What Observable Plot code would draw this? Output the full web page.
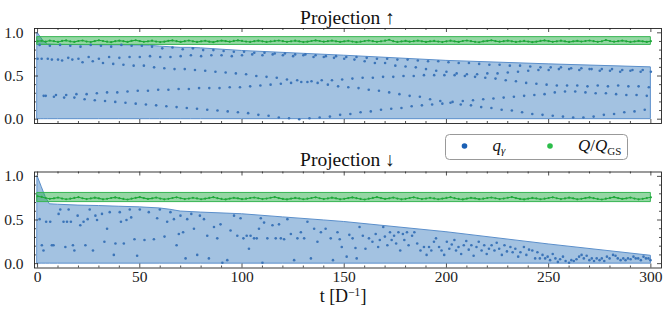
<!DOCTYPE html>
<html><head><meta charset="utf-8">
<script src="https://cdn.jsdelivr.net/npm/d3@7"></script>
<script src="https://cdn.jsdelivr.net/npm/@observablehq/plot@0.6"></script>
<style>
html,body{margin:0;padding:0;background:#fff;}
#wrap{position:relative;width:665px;height:321px;overflow:hidden;font-family:"Liberation Serif","Times New Roman","DejaVu Serif",serif;}
#wrap > svg{position:absolute;left:0;}
#wrap text{font-family:"Liberation Serif","Times New Roman","DejaVu Serif",serif;}
</style></head><body><div id="wrap"></div>
<script>
// ---------- axis ticks ----------
const xTicksMajor = [0, 50, 100, 150, 200, 250, 300];
const xTicksMinor = [10,20,30,40,60,70,80,90,110,120,130,140,160,170,180,190,210,220,230,240,260,270,280,290];
const yTicksMajor = [0, 0.5, 1.0];
const yTicksMinor = [0.1,0.2,0.3,0.4,0.6,0.7,0.8,0.9];
const yTickLabels = ["0.0", "0.5", "1.0"];
const titles = ["Projection \u2191", "Projection \u2193"];

// ---------- Projection ↑ ----------
// q_gamma: five tracks, one point every 5 t, first t of each track:
const upTrackStart = [1, 0, 2, 3, 4];
const upTrack1 = [0.86,0.85,0.86,0.85,0.84,0.86,0.85,0.84,0.86,0.85,
  0.85,0.84,0.82,0.83,0.81,0.82,0.80,0.80,0.79,0.78,
  0.78,0.77,0.77,0.76,0.76,0.75,0.75,0.74,0.73,0.73,
  0.72,0.72,0.71,0.70,0.70,0.69,0.69,0.68,0.67,0.67,
  0.66,0.65,0.65,0.64,0.63,0.63,0.62,0.62,0.61,0.60,
  0.60,0.60,0.59,0.59,0.58,0.58,0.58,0.57,0.57,0.57];
const upTrack2 = [0.70,0.70,0.69,0.71,0.70,0.72,0.70,0.72,0.71,0.72,
  0.72,0.73,0.72,0.72,0.73,0.74,0.73,0.74,0.74,0.73,
  0.74,0.75,0.74,0.75,0.74,0.73,0.74,0.72,0.72,0.71,
  0.70,0.69,0.67,0.65,0.65,0.62,0.61,0.60,0.58,0.56,
  0.55,0.53,0.52,0.52,0.53,0.53,0.54,0.55,0.56,0.57,
  0.57,0.58,0.58,0.57,0.58,0.56,0.56,0.55,0.56,0.55,
  0.55];
const upTrack3 = [0.70,0.69,0.68,0.69,0.66,0.67,0.65,0.64,0.63,0.62,
  0.62,0.60,0.59,0.58,0.58,0.57,0.56,0.55,0.54,0.53,
  0.52,0.50,0.49,0.48,0.46,0.45,0.43,0.42,0.40,0.38,
  0.37,0.36,0.34,0.33,0.31,0.29,0.27,0.26,0.23,0.21,
  0.19,0.17,0.16,0.14,0.13,0.11,0.10,0.08,0.06,0.05,
  0.04,0.03,0.02,0.02,0.03,0.05,0.06,0.08,0.09,0.11];
const upTrack4 = [0.27,0.26,0.25,0.25,0.23,0.22,0.21,0.20,0.19,0.18,
  0.17,0.16,0.15,0.14,0.13,0.12,0.11,0.10,0.09,0.08,
  0.07,0.05,0.04,0.02,0.01,0.00,0.01,0.02,0.03,0.05,
  0.06,0.08,0.09,0.11,0.12,0.13,0.15,0.16,0.17,0.18,
  0.20,0.21,0.22,0.23,0.24,0.25,0.26,0.27,0.28,0.29,
  0.31,0.32,0.32,0.31,0.30,0.30,0.29,0.28,0.28,0.27];
const upTrack5 = [0.27,0.28,0.28,0.29,0.29,0.30,0.31,0.31,0.32,0.33,
  0.33,0.34,0.34,0.35,0.35,0.36,0.36,0.36,0.37,0.37,
  0.38,0.39,0.40,0.41,0.42,0.43,0.44,0.45,0.45,0.46,
  0.47,0.48,0.48,0.49,0.49,0.50,0.50,0.51,0.51,0.51,
  0.51,0.50,0.49,0.48,0.47,0.45,0.44,0.42,0.41,0.40,
  0.39,0.39,0.39,0.38,0.39,0.38,0.39,0.38,0.38,0.37];
const upTrackStep = 5;
// upper edge of the shaded q_gamma region
const upEnvT = [0, 1.5, 3, 5, 10, 20, 30, 40, 50, 55, 60, 65, 70, 75, 80, 100, 150, 200, 250, 300];
const upEnvQ = [1.0, 0.95, 0.90, 0.865, 0.86, 0.858, 0.856, 0.855, 0.853, 0.85, 0.84, 0.833, 0.826, 0.826, 0.82, 0.79, 0.735, 0.675, 0.635, 0.60];
const upBand = [0.86, 0.95];
const bandSpan = [0, 300];
// Q/Q_GS, one value every 2 t
const qgsStep = 2;
const upQgs = [0.902,0.908,0.897,0.910,0.903,0.894,0.906,0.912,0.900,0.895,
  0.905,0.911,0.899,0.893,0.904,0.913,0.905,0.897,0.892,0.903,
  0.910,0.903,0.895,0.907,0.914,0.904,0.896,0.901,0.909,0.899,
  0.893,0.898,0.907,0.912,0.903,0.895,0.903,0.911,0.902,0.894,
  0.901,0.908,0.898,0.892,0.903,0.910,0.904,0.897,0.906,0.913,
  0.906,0.899,0.894,0.903,0.910,0.902,0.894,0.900,0.906,0.911,
  0.903,0.896,0.902,0.909,0.901,0.893,0.898,0.905,0.912,0.905,
  0.897,0.903,0.910,0.902,0.895,0.901,0.908,0.899,0.892,0.897,
  0.905,0.911,0.903,0.896,0.902,0.909,0.920,0.903,0.894,0.900,
  0.907,0.898,0.903,0.910,0.902,0.895,0.901,0.906,0.899,0.893,
  0.902,0.909,0.901,0.895,0.905,0.911,0.903,0.896,0.891,0.901,
  0.907,0.913,0.904,0.897,0.903,0.910,0.902,0.894,0.900,0.906,
  0.899,0.892,0.898,0.906,0.912,0.904,0.896,0.902,0.909,0.901,
  0.894,0.901,0.907,0.899,0.905,0.911,0.903,0.896,0.902,0.916,
  0.905,0.897,0.903,0.910,0.902,0.894,0.900,0.907,0.901,0.895,
  0.903];

// ---------- Projection ↓ ----------
const downT = [1.0,2.1,2.9,4.2,6.2,7.0,7.8,10.3,11.1,12.7,
  13.6,14.4,15.2,16.3,17.3,18.0,19.6,20.9,22.5,23.4,
  24.5,25.5,27.1,28.3,29.1,31.5,32.7,34.0,35.3,37.3,
  38.1,40.2,40.8,42.2,43.5,45.1,45.8,47.4,48.7,50.0,
  52.3,54.4,56.9,58.5,59.8,62.1,63.4,65.0,66.7,68.0,
  69.1,69.9,71.2,72.4,73.2,75.2,76.5,78.1,79.4,81.4,
  83.0,83.8,86.3,87.9,89.5,90.4,92.8,94.4,96.1,97.7,
  99.3,100.7,102.3,103.4,104.2,105.9,107.2,108.3,109.2,110.0,
  110.8,112.4,114.9,116.5,118.1,119.0,120.6,122.2,123.9,125.5,
  127.1,128.8,130.4,132.0,133.7,135.3,136.9,138.6,
  140.9,143.4,144.5,146.7,147.8,148.8,151.2,152.5,154.1,155.5,
  156.1,157.5,159.1,160.4,162.1,163.8,165.4,166.6,167.4,169.1,
  169.9,171.1,172.4,173.2,174.4,175.4,176.5,177.4,178.7,179.4,
  180.7,181.5,183.2,184.3,185.7,187.3,189.0,190.3,191.5,192.6,
  193.9,194.9,196.4,197.6,198.9,200.2,201.4,202.6,203.9,204.7,
  205.9,207.2,208.5,209.7,210.9,212.2,213.3,214.7,215.8,217.2,
  218.5,219.7,220.8,222.1,223.5,224.6,225.8,227.1,228.4,229.6,
  231.3,232.4,233.7,235.1,236.2,237.9,239.1,240.4,242.0,243.4,
  244.5,245.7,247.0,248.3,249.5,250.7,252.0,253.3,254.5,255.6,
  257.0,258.3,260.0,261.1,262.3,263.6,264.9,266.1,267.2,268.6,
  269.9,271.1,272.2,273.5,274.9,276.0,277.2,278.5,279.8,281.5,
  282.7,283.8,285.2,286.5,287.6,288.8,290.1,291.5,292.6,293.8,
  295.1,296.4,297.6,298.8,299.8];
const downQ = [0.51,0.21,0.15,0.48,0.48,0.21,0.21,0.57,0.62,0.48,
  0.19,0.48,0.62,0.48,0.21,0.15,0.55,0.44,0.48,0.21,
  0.51,0.62,0.15,0.55,0.50,0.57,0.25,0.40,0.59,0.10,
  0.23,0.59,0.48,0.23,0.50,0.62,0.53,0.28,0.09,0.62,
  0.27,0.59,0.28,0.52,0.62,0.31,0.48,0.59,0.51,0.21,
  0.34,0.55,0.36,0.06,0.51,0.57,0.40,0.10,0.55,0.51,
  0.32,0.06,0.42,0.29,0.45,0.01,0.04,0.38,0.55,0.32,
  0.52,0.29,0.32,0.17,0.32,0.29,0.29,0.40,0.52,0.01,
  0.47,0.29,0.44,0.29,0.45,0.29,0.28,0.51,0.34,0.04,
  0.29,0.36,0.29,0.48,0.06,0.40,0.25,0.36,
  0.40,0.29,0.04,0.36,0.28,0.19,0.08,0.33,0.29,0.18,
  0.06,0.42,0.32,0.17,0.29,0.25,0.34,0.19,0.27,0.42,
  0.31,0.21,0.36,0.27,0.32,0.23,0.36,0.15,0.34,0.27,
  0.36,0.21,0.32,0.36,0.23,0.15,0.19,0.10,0.19,0.15,
  0.25,0.29,0.19,0.15,0.10,0.25,0.17,0.22,0.27,0.15,
  0.19,0.11,0.21,0.26,0.16,0.21,0.09,0.19,0.25,0.15,
  0.21,0.11,0.17,0.21,0.15,0.24,0.17,0.10,0.21,0.14,
  0.19,0.13,0.17,0.08,0.13,0.19,0.10,0.16,0.15,0.06,
  0.13,0.06,0.10,0.06,0.08,0.04,0.11,0.06,0.02,0.05,
  0.08,0.03,0.01,0.04,0.03,0.05,0.08,0.10,0.06,0.09,
  0.04,0.06,0.03,0.06,0.04,0.06,0.03,0.08,0.06,0.10,
  0.09,0.06,0.04,0.06,0.04,0.06,0.05,0.08,0.06,0.06,
  0.04,0.08,0.06,0.06,0.04];
const downEnvT = [0, 2, 4, 6, 10, 20, 30, 40, 50, 60, 65, 70, 80, 100, 120, 140, 150, 200, 250, 300];
const downEnvQ = [1.0, 0.88, 0.76, 0.68, 0.675, 0.665, 0.66, 0.652, 0.645, 0.632, 0.617, 0.597, 0.585, 0.566, 0.53, 0.495, 0.477, 0.36, 0.22, 0.09];
const downBand = [0.705, 0.81];
const downQgs = [0.772,0.764,0.752,0.743,0.748,0.757,0.746,0.738,0.744,0.753,
  0.761,0.749,0.740,0.747,0.756,0.748,0.737,0.743,0.752,0.759,
  0.750,0.741,0.735,0.744,0.754,0.762,0.751,0.742,0.748,0.757,
  0.746,0.737,0.743,0.752,0.760,0.749,0.740,0.746,0.755,0.747,
  0.738,0.745,0.753,0.761,0.750,0.741,0.736,0.745,0.754,0.748,
  0.739,0.744,0.752,0.758,0.749,0.740,0.746,0.755,0.763,0.751,
  0.742,0.736,0.745,0.753,0.747,0.738,0.744,0.752,0.760,0.749,
  0.740,0.747,0.756,0.748,0.737,0.743,0.751,0.759,0.750,0.741,
  0.735,0.744,0.753,0.762,0.751,0.742,0.748,0.757,0.746,0.737,
  0.743,0.752,0.760,0.749,0.740,0.746,0.755,0.747,0.738,0.745,
  0.753,0.761,0.750,0.741,0.736,0.745,0.754,0.748,0.739,0.744,
  0.752,0.758,0.749,0.740,0.746,0.755,0.763,0.751,0.742,0.736,
  0.745,0.753,0.747,0.738,0.744,0.752,0.760,0.749,0.740,0.747,
  0.756,0.748,0.737,0.743,0.751,0.759,0.750,0.741,0.735,0.744,
  0.753,0.762,0.751,0.742,0.748,0.757,0.746,0.737,0.743,0.752,
  0.760];

// ---------- build ----------
const W = 665;
const FONT = '"Liberation Serif", "Times New Roman", "DejaVu Serif", serif';
const xDom = [-1.5, 305.2];
const yDom = [-0.05, 1.05];
const mL = 34, mR = 4;
const C = {
  fill: "#3f7fc0", edge: "#5b8fcb", pt: "#3b74b8",
  gFill: "#2cb04a", gEdge: "#36b552", gLine: "#1fa83a", axis: "#222"
};

const upPts = [upTrack1, upTrack2, upTrack3, upTrack4, upTrack5].flatMap((arr, k) =>
  arr.map((q, i) => ({t: upTrackStart[k] + upTrackStep * i, q})));
const downPts = downT.map((t, i) => ({t, q: downQ[i]}));

function panel({top, height, mt, mb, envT, envQ, band, qgs, pts, xLabels}) {
  const plotW = W - mL - mR, plotH = height - mt - mb;
  const kx = (xDom[1] - xDom[0]) / plotW;
  const ky = (yDom[1] - yDom[0]) / plotH;
  const env = envT.map((t, i) => ({t, q: envQ[i]}));
  const qg = qgs.map((q, i) => ({t: i * qgsStep, q}));
  const bandData = bandSpan.map(t => ({t, lo: band[0], hi: band[1]}));
  const tk = {stroke: C.axis, strokeWidth: 0.8};
  const marks = [
    Plot.areaY(env, {x: "t", y1: 0, y2: "q", fill: C.fill, fillOpacity: 0.48, stroke: C.edge, strokeWidth: 1}),
    Plot.areaY(bandData, {x: "t", y1: "lo", y2: "hi", fill: C.gFill, fillOpacity: 0.5, stroke: C.gEdge, strokeWidth: 1}),
    Plot.lineY(qg, {x: "t", y: "q", stroke: C.gLine, strokeWidth: 1.1}),
    Plot.dot(qg, {x: "t", y: "q", r: 1.1, fill: C.gLine}),
    Plot.dot(pts, {x: "t", y: "q", r: 1.3, fill: C.pt}),
    Plot.frame({stroke: C.axis, strokeWidth: 0.9}),
    // inward ticks on all four sides
    Plot.ruleX(xTicksMajor, {x: d => d, y1: yDom[0], y2: yDom[0] + 4 * ky, ...tk}),
    Plot.ruleX(xTicksMajor, {x: d => d, y1: yDom[1] - 4 * ky, y2: yDom[1], ...tk}),
    Plot.ruleX(xTicksMinor, {x: d => d, y1: yDom[0], y2: yDom[0] + 2 * ky, ...tk}),
    Plot.ruleX(xTicksMinor, {x: d => d, y1: yDom[1] - 2 * ky, y2: yDom[1], ...tk}),
    Plot.ruleY(yTicksMajor, {y: d => d, x1: xDom[0], x2: xDom[0] + 4 * kx, ...tk}),
    Plot.ruleY(yTicksMajor, {y: d => d, x1: xDom[1] - 4 * kx, x2: xDom[1], ...tk}),
    Plot.ruleY(yTicksMinor, {y: d => d, x1: xDom[0], x2: xDom[0] + 2 * kx, ...tk}),
    Plot.ruleY(yTicksMinor, {y: d => d, x1: xDom[1] - 2 * kx, x2: xDom[1], ...tk}),
    Plot.axisY({ticks: yTicksMajor, tickFormat: (d, i) => yTickLabels[i], tickSize: 0, tickPadding: 11, label: null, fill: C.axis, fontSize: 15.5})
  ];
  if (xLabels) marks.push(Plot.axisX({ticks: xTicksMajor, tickFormat: d => String(d), tickSize: 0, tickPadding: 3, label: null, fill: C.axis, fontSize: 15.5}));
  const svg = Plot.plot({
    width: W, height,
    marginLeft: mL, marginRight: mR, marginTop: mt, marginBottom: mb,
    x: {domain: xDom, axis: xLabels ? undefined : null},
    y: {domain: yDom},
    style: {fontFamily: FONT, fontSize: "15.5px", background: "transparent", overflow: "visible"},
    marks
  });
  svg.style.top = top + "px";
  svg.style.fontFamily = FONT;
  return svg;
}

const wrap = document.getElementById("wrap");
wrap.appendChild(panel({top: 0, height: 130, mt: 28, mb: 7, envT: upEnvT, envQ: upEnvQ, band: upBand, qgs: upQgs, pts: upPts, xLabels: false}));
wrap.appendChild(panel({top: 150, height: 140, mt: 21.5, mb: 22.5, envT: downEnvT, envQ: downEnvQ, band: downBand, qgs: downQgs, pts: downPts, xLabels: true}));

// ---------- text overlay: titles, x label, legend ----------
const ov = d3.select(wrap).append("svg")
  .attr("width", W).attr("height", 321)
  .style("top", "0px")
  .style("font-family", FONT)
  .style("pointer-events", "none");
ov.append("text").attr("x", 347.5).attr("y", 24).attr("text-anchor", "middle")
  .attr("font-size", 19.5).attr("fill", "#111").text(titles[0]);
ov.append("text").attr("x", 347.5).attr("y", 166).attr("text-anchor", "middle")
  .attr("font-size", 19.5).attr("fill", "#111").text(titles[1]);
const xl = ov.append("text").attr("x", 343).attr("y", 302).attr("text-anchor", "middle")
  .attr("font-size", 18).attr("fill", "#111");
xl.append("tspan").text("t [D");
xl.append("tspan").attr("font-size", 11.5).attr("dy", -6).text("\u22121");
xl.append("tspan").attr("dy", 6).text("]");

const lg = ov.append("g");
lg.append("rect").attr("x", 445.5).attr("y", 134.5).attr("width", 182).attr("height", 25)
  .attr("rx", 4).attr("fill", "#fff").attr("stroke", "#999").attr("stroke-width", 1);
lg.append("circle").attr("cx", 464.5).attr("cy", 146).attr("r", 2.8).attr("fill", "#1a5fb4");
lg.append("circle").attr("cx", 550).attr("cy", 146).attr("r", 2.8).attr("fill", "#2bbd4a");
const t1 = lg.append("text").attr("x", 492.5).attr("y", 150.5).attr("font-size", 17).attr("fill", "#111");
t1.append("tspan").attr("font-style", "italic").text("q");
t1.append("tspan").attr("font-size", 11).attr("dy", 3.5).attr("font-style", "italic").text("\u03b3");
const t2 = lg.append("text").attr("x", 578).attr("y", 151).attr("font-size", 17).attr("fill", "#111");
t2.append("tspan").attr("font-style", "italic").text("Q");
t2.append("tspan").text("/");
t2.append("tspan").attr("font-style", "italic").text("Q");
t2.append("tspan").attr("font-size", 11).attr("dy", 3.5).text("GS");
</script></body></html>
